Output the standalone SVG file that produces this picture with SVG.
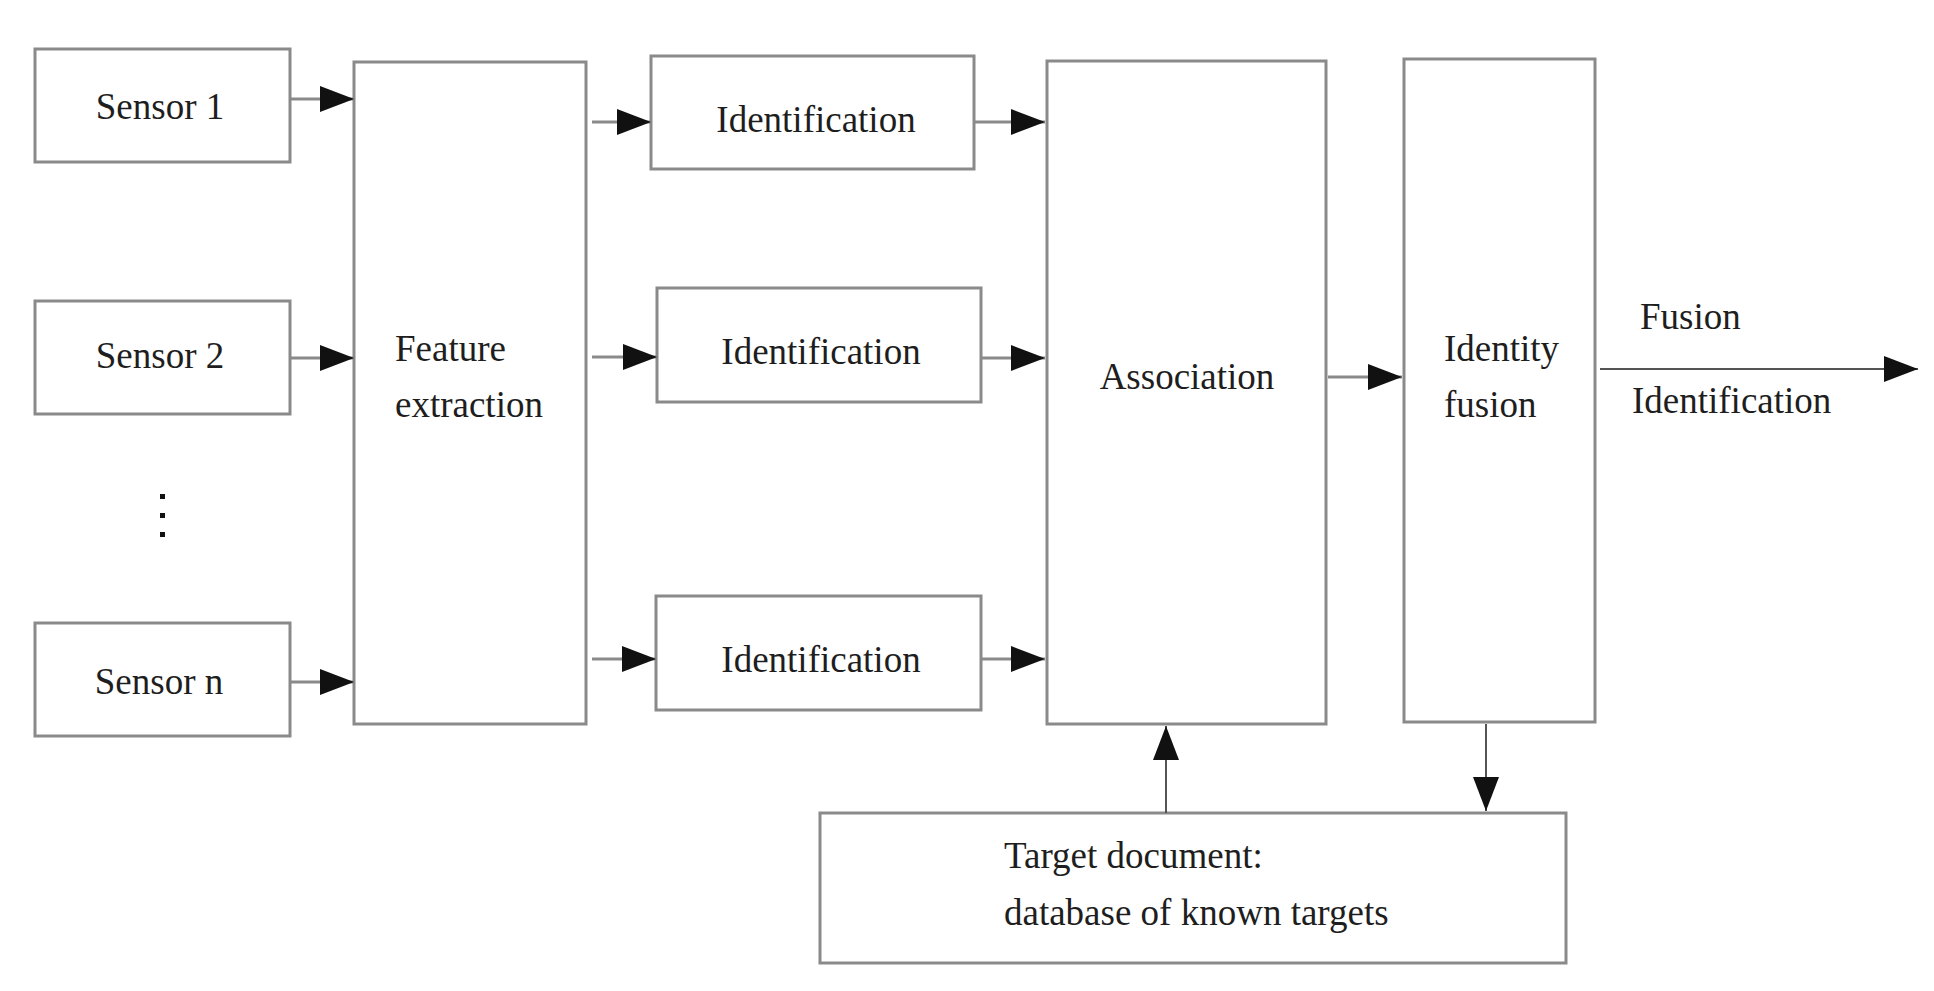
<svg xmlns="http://www.w3.org/2000/svg" width="1934" height="991" viewBox="0 0 1934 991">
<style>
.box{fill:#fff;stroke:#8a8a8a;stroke-width:3}
.t{font-family:"Liberation Serif","Times New Roman",serif;font-size:37px;fill:#1e1e1e}
.c{text-anchor:middle}
.ln{stroke:#8a8a8a;stroke-width:3;fill:none}
.thin{stroke:#555;stroke-width:2;fill:none}
</style>
<defs>
<marker id="ah" markerUnits="userSpaceOnUse" markerWidth="34" markerHeight="26" refX="34" refY="13" orient="auto">
<path d="M0,0 L34,13 L0,26 Z" fill="#111"/>
</marker>
</defs>
<rect width="1934" height="991" fill="#fff"/>
<g id="sensor1"><rect class="box" x="35" y="49" width="255" height="113"/><text class="t c" x="160" y="119">Sensor 1</text></g>
<g id="sensor2"><rect class="box" x="35" y="301" width="255" height="113"/><text class="t c" x="160" y="368">Sensor 2</text></g>
<g id="dots" fill="#111"><rect x="160" y="494" width="5" height="5"/><rect x="160" y="513" width="5" height="5"/><rect x="160" y="532" width="5" height="5"/></g>
<g id="sensorn"><rect class="box" x="35" y="623" width="255" height="113"/><text class="t c" x="159" y="694">Sensor n</text></g>
<g id="feature"><rect class="box" x="354" y="62" width="232" height="662"/><text class="t" x="395" y="361">Feature</text><text class="t" x="395" y="417">extraction</text></g>
<g id="ident1"><rect class="box" x="651" y="56" width="323" height="113"/><text class="t c" x="816" y="132">Identification</text></g>
<g id="ident2"><rect class="box" x="657" y="288" width="324" height="114"/><text class="t c" x="821" y="364">Identification</text></g>
<g id="ident3"><rect class="box" x="656" y="596" width="325" height="114"/><text class="t c" x="821" y="672">Identification</text></g>
<g id="association"><rect class="box" x="1047" y="61" width="279" height="663"/><text class="t c" x="1187" y="389">Association</text></g>
<g id="identityfusion"><rect class="box" x="1404" y="59" width="191" height="663"/><text class="t" x="1444" y="361">Identity</text><text class="t" x="1444" y="417">fusion</text></g>
<g id="targetdoc"><rect class="box" x="820" y="813" width="746" height="150"/><text class="t" x="1004" y="868">Target document:</text><text class="t" x="1004" y="925">database of known targets</text></g>
<g id="outlabels"><text class="t" x="1640" y="329">Fusion</text><text class="t" x="1632" y="413">Identification</text></g>
<g id="connectors">
<line class="ln" x1="290" y1="99" x2="354" y2="99" marker-end="url(#ah)"/>
<line class="ln" x1="290" y1="358" x2="354" y2="358" marker-end="url(#ah)"/>
<line class="ln" x1="290" y1="682" x2="354" y2="682" marker-end="url(#ah)"/>
<line class="ln" x1="592" y1="122" x2="651" y2="122" marker-end="url(#ah)"/>
<line class="ln" x1="592" y1="357" x2="657" y2="357" marker-end="url(#ah)"/>
<line class="ln" x1="592" y1="659" x2="656" y2="659" marker-end="url(#ah)"/>
<line class="ln" x1="974" y1="122" x2="1045" y2="122" marker-end="url(#ah)"/>
<line class="ln" x1="981" y1="358" x2="1045" y2="358" marker-end="url(#ah)"/>
<line class="ln" x1="981" y1="659" x2="1045" y2="659" marker-end="url(#ah)"/>
<line class="ln" x1="1328" y1="377" x2="1402" y2="377" marker-end="url(#ah)"/>
<line class="thin" x1="1600" y1="369" x2="1918" y2="369" marker-end="url(#ah)"/>
<line class="thin" x1="1166" y1="813" x2="1166" y2="726" marker-end="url(#ah)"/>
<line class="thin" x1="1486" y1="724" x2="1486" y2="811" marker-end="url(#ah)"/>
</g>
</svg>
